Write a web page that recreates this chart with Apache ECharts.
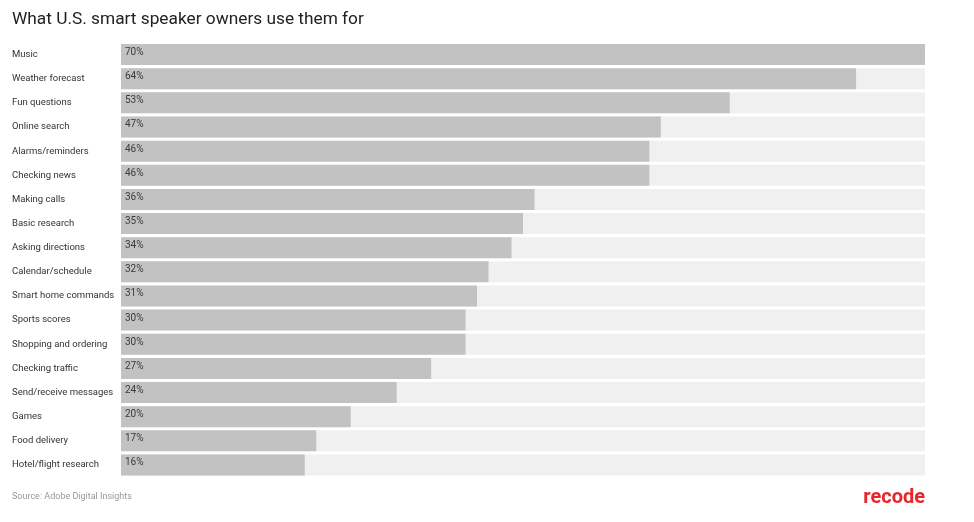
<!DOCTYPE html>
<html>
<head>
<meta charset="utf-8">
<script src="https://cdn.jsdelivr.net/npm/echarts@6/dist/echarts.min.js"></script>
<style>
  html, body { margin: 0; padding: 0; background: #fff; }
  #chart { width: 974px; height: 522px; }
</style>
</head>
<body>
<div id="chart"></div>
<script>
const categories = [
  'Music', 'Weather forecast', 'Fun questions', 'Online search',
  'Alarms/reminders', 'Checking news', 'Making calls', 'Basic research',
  'Asking directions', 'Calendar/schedule', 'Smart home commands',
  'Sports scores', 'Shopping and ordering', 'Checking traffic',
  'Send/receive messages', 'Games', 'Food delivery', 'Hotel/flight research'
];
const shares = [70, 64, 53, 47, 46, 46, 36, 35, 34, 32, 31, 30, 30, 27, 24, 20, 17, 16];

const chart = echarts.init(document.getElementById('chart'));

chart.setOption({
  animation: false,
  textStyle: { fontFamily: 'Roboto' },
  title: [
    {
      text: 'What U.S. smart speaker owners use them for',
      left: 7,
      top: 6,
      textStyle: { fontSize: 17.3, fontWeight: 'normal', color: '#222', fontFamily: 'Roboto' }
    },
    {
      text: 'Source: Adobe Digital Insights',
      left: 7,
      top: 487,
      textStyle: { fontSize: 9, fontWeight: 'normal', color: '#999', fontFamily: 'Roboto' }
    },
    {
      text: 'recode',
      right: 44,
      top: 483,
      textStyle: { fontSize: 20, fontWeight: 'bold', color: '#e8262a', fontFamily: 'Roboto' }
    }
  ],
  grid: { left: 121, right: 49, top: 42.5, bottom: 45 },
  xAxis: {
    type: 'value',
    min: 0,
    max: 70,
    show: false
  },
  yAxis: {
    type: 'category',
    data: categories,
    inverse: true,
    axisLine: { show: false },
    axisTick: { show: false },
    axisLabel: {
      align: 'left',
      margin: 109,
      fontSize: 9.5,
      color: '#333',
      fontFamily: 'Roboto'
    }
  },
  series: [{
    type: 'bar',
    data: shares,
    barWidth: 21,
    showBackground: true,
    backgroundStyle: { color: '#f0f0f0' },
    itemStyle: { color: '#c2c2c2' },
    label: {
      show: true,
      position: 'insideLeft',
      distance: 4,
      offset: [0, -2],
      formatter: '{c}%',
      fontSize: 10,
      color: '#3a3a3a',
      fontFamily: 'Roboto'
    }
  }]
});
</script>
</body>
</html>
